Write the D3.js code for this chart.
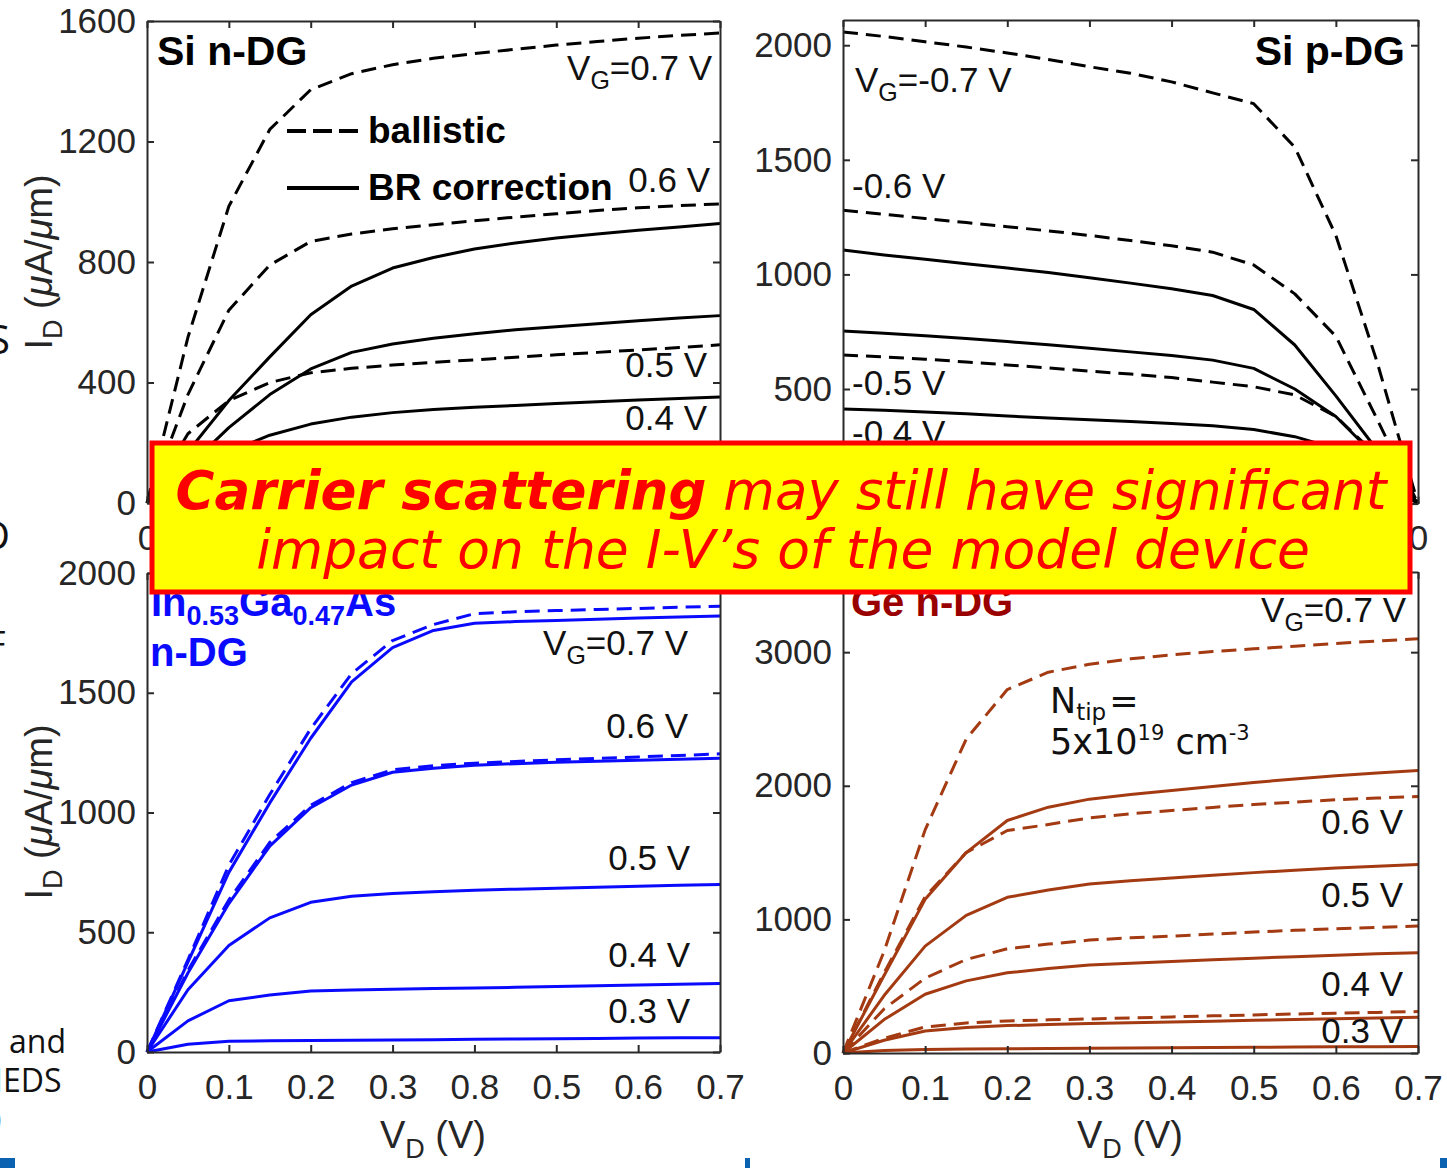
<!DOCTYPE html>
<html><head><meta charset="utf-8">
<script src="https://cdn.jsdelivr.net/npm/d3@7/dist/d3.min.js"></script>
<style>body{margin:0;background:#fff;overflow:hidden}svg{display:block}</style>
</head><body>
<svg id="c" width="1447" height="1168"></svg>
<script>
// ---------- DATA ----------
const vdN = [0,0.05,0.1,0.15,0.2,0.25,0.3,0.35,0.4,0.45,0.5,0.55,0.6,0.65,0.7];
const vdP = [-0.7,-0.65,-0.6,-0.55,-0.5,-0.45,-0.4,-0.35,-0.3,-0.25,-0.2,-0.15,-0.1,-0.05,0];

// Si n-DG (uA/um)
const siN_ball07 = [0,550,985,1240,1372,1425,1455,1476,1492,1506,1520,1532,1543,1552,1560];
const siN_ball06 = [0,360,640,790,868,893,910,924,937,949,960,971,980,987,993];
const siN_br06   = [0,170,340,485,625,720,780,815,843,863,880,893,905,916,928];
const siN_ball05 = [0,230,340,400,432,447,458,467,475,484,492,500,508,516,525];
const siN_br05   = [0,120,250,360,445,500,528,547,562,575,585,595,605,614,622];
const siN_ball04 = [0,120,160,172,178,181,183,185,186,187,188,189,190,191,192];
const siN_br04   = [0,90,170,225,262,285,300,310,318,324,330,336,342,347,352];

// Si p-DG (VD from -0.7 to 0)
const siP_ball07 = [2058,2038,2015,1992,1966,1938,1906,1878,1840,1792,1745,1555,1170,620,0];
const siP_ball06 = [1280,1262,1244,1226,1208,1190,1170,1148,1125,1097,1041,915,730,370,0];
const siP_br06   = [1106,1085,1066,1047,1028,1008,985,962,937,908,847,692,470,235,0];
const siP_br05   = [753,743,732,720,707,693,678,662,646,626,590,500,380,200,0];
const siP_ball05 = [648,640,630,618,605,592,578,565,550,530,510,474,380,210,0];
const siP_br04   = [413,407,400,392,382,374,366,358,350,340,323,292,240,140,0];
const siP_ball04 = [235,232,229,226,223,220,217,214,211,207,203,195,170,110,0];

// In0.53Ga0.47As n-DG
const ingaas_ball07 = [0,385,780,1075,1350,1580,1718,1785,1830,1838,1843,1848,1852,1857,1861];
const ingaas_br07   = [0,375,750,1040,1310,1545,1688,1760,1790,1797,1802,1807,1812,1816,1820];
const ingaas_ball06 = [0,340,635,875,1030,1125,1178,1195,1206,1213,1220,1226,1232,1238,1245];
const ingaas_br06   = [0,330,620,860,1020,1115,1168,1185,1197,1204,1210,1214,1218,1222,1226];
const ingaas_br05   = [0,260,445,560,625,650,662,669,675,680,684,688,692,696,699];
const ingaas_br04   = [0,130,214,238,255,259,262,265,267,270,274,277,280,283,286];
const ingaas_br03   = [0,32,45,47,48,49,50,51,53,54,55,56,58,59,60];

// Ge n-DG
const ge_ball07 = [0,760,1670,2350,2720,2850,2910,2950,2980,3005,3025,3045,3065,3083,3100];
const ge_br07   = [0,580,1150,1500,1740,1840,1900,1935,1965,1995,2025,2050,2075,2095,2115];
const ge_ball06 = [0,600,1170,1500,1665,1710,1760,1790,1815,1838,1860,1878,1895,1908,1920];
const ge_br06   = [0,430,800,1030,1165,1220,1265,1290,1310,1330,1350,1368,1385,1398,1410];
const ge_ball05 = [0,330,560,700,780,815,845,862,875,890,905,918,930,940,950];
const ge_br05   = [0,250,440,540,600,632,658,672,685,698,710,721,732,742,751];
const ge_ball04 = [0,110,195,225,240,248,255,262,270,278,285,292,298,304,310];
const ge_br04   = [0,95,165,190,205,213,220,226,232,238,245,250,256,262,267];
const ge_br03   = [0,18,27,30,32,34,36,37,39,41,43,44,46,47,49];

// tick values / labels
const xTicksN = [0,0.1,0.2,0.3,0.4,0.5,0.6,0.7];
const xTicksP = [-0.7,-0.6,-0.5,-0.4,-0.3,-0.2,-0.1,0];
const xLabelsN = ["0","0.1","0.2","0.3","0.4","0.5","0.6","0.7"];
const xLabelsInGaAs = ["0","0.1","0.2","0.3","0.8","0.5","0.6","0.7"];
const xLabelsP = ["-0.7","-0.6","-0.5","-0.4","-0.3","-0.2","-0.1","0"];
const yTicksSiN = [0,400,800,1200,1600];
const yTicksSiP = [0,500,1000,1500,2000];
const yTicksInGaAs = [0,500,1000,1500,2000];
const yTicksGe = [0,1000,2000,3000];

// ---------- DRAW ----------
const svg = d3.select('#c');
const FONT = '"Liberation Sans", Arial, Helvetica, sans-serif';
const BLACK = '#000', BLUE = '#0a0aff', BROWN = '#a33a12';
const DASH = '15,8';
const BOX = {x:152, y:443, w:1258, h:149};

function insideBox(el){
  const b = el.getBBox(), m = el.getCTM();
  const x0 = m.e + b.x, y0 = m.f + b.y;
  return x0 >= BOX.x && x0 + b.width <= BOX.x + BOX.w && y0 >= BOX.y && y0 + b.height <= BOX.y + BOX.h;
}

function panel(cfg){
  const x = d3.scaleLinear().domain(cfg.xDomain).range([cfg.left, cfg.right]);
  const y = d3.scaleLinear().domain(cfg.yDomain).range([cfg.bottom, cfg.top]);
  const g = svg.append('g');
  const line = d3.line().x(d=>x(d[0])).y(d=>y(d[1]));
  cfg.series.forEach(s=>{
    g.append('path')
      .datum(cfg.vd.map((v,i)=>[v,s.data[i]]))
      .attr('d', line)
      .attr('fill','none')
      .attr('stroke', s.color)
      .attr('stroke-width', 3)
      .attr('stroke-linejoin','round')
      .attr('stroke-dasharray', s.dashed ? DASH : null);
  });
  const axColor = '#2a2a2a';
  const styleAxis = sel => {
    sel.select('.domain').attr('stroke', axColor).attr('stroke-width', 2);
    sel.selectAll('.tick line').attr('stroke', axColor).attr('stroke-width', 2);
    sel.selectAll('.tick text').attr('fill', '#262626').style('font-family', FONT).style('font-size','35px');
  };
  g.append('g').attr('transform',`translate(0,${cfg.bottom})`)
    .call(d3.axisBottom(x).tickValues(cfg.xTicks).tickFormat((d,i)=>cfg.xLabels[i]).tickSize(-7).tickSizeOuter(0).tickPadding(22))
    .call(styleAxis);
  g.append('g').attr('transform',`translate(0,${cfg.top})`)
    .call(d3.axisTop(x).tickValues(cfg.xTicks).tickFormat('').tickSize(-7).tickSizeOuter(0))
    .call(styleAxis);
  g.append('g').attr('transform',`translate(${cfg.left},0)`)
    .call(d3.axisLeft(y).tickValues(cfg.yTicks).tickFormat(d3.format('d')).tickSize(-7).tickSizeOuter(0).tickPadding(11))
    .call(styleAxis);
  g.append('g').attr('transform',`translate(${cfg.right},0)`)
    .call(d3.axisRight(y).tickValues(cfg.yTicks).tickFormat('').tickSize(-7).tickSizeOuter(0))
    .call(styleAxis);
  // tick labels completely hidden behind the overlay box are not shown in the reference
  g.selectAll('.tick text').each(function(){ if (insideBox(this)) d3.select(this).remove(); });
  return {x,y,g};
}

// rich text helper
function rich(x, y, parts, o={}){
  const base = o.size || 35;
  const t = svg.append('text').attr('x',x).attr('y',y)
    .attr('text-anchor', o.anchor || 'start')
    .style('font-family', o.family || FONT)
    .style('font-size', base+'px')
    .style('font-weight', o.bold ? 'bold' : 'normal')
    .attr('fill', o.color || '#111');
  if (o.rotate) t.attr('transform', `rotate(${o.rotate},${x},${y})`);
  let shift = 0;
  parts.forEach(p=>{
    if (typeof p === 'string') p = {t:p};
    let target = 0, size = base;
    if (p.sub){ target = o.subShift || Math.round(base*0.27); size = p.size || Math.round(base*0.7); }
    if (p.sup){ target = -(o.supShift || Math.round(base*0.4)); size = p.size || Math.round(base*0.62); }
    const ts = t.append('tspan').text(p.t).attr('dy', target - shift).style('font-size', size+'px');
    if (p.it) ts.style('font-style','italic');
    if (p.dx) ts.attr('dx', p.dx);
    shift = target;
  });
  return t;
}

// Panel 1: Si n-DG
panel({
  left:147, right:720, top:21, bottom:503,
  xDomain:[0,0.7], yDomain:[0,1600], vd:vdN,
  xTicks:xTicksN, xLabels:xLabelsN, yTicks:yTicksSiN,
  series:[
    {data:siN_ball04, dashed:true, color:BLACK},
    {data:siN_br04, color:BLACK},
    {data:siN_ball05, dashed:true, color:BLACK},
    {data:siN_br05, color:BLACK},
    {data:siN_br06, color:BLACK},
    {data:siN_ball06, dashed:true, color:BLACK},
    {data:siN_ball07, dashed:true, color:BLACK}
  ]
});
// Panel 2: Si p-DG
panel({
  left:843, right:1418, top:20, bottom:503.6,
  xDomain:[-0.7,0], yDomain:[0,2110], vd:vdP,
  xTicks:xTicksP, xLabels:xLabelsP, yTicks:yTicksSiP,
  series:[
    {data:siP_ball04, dashed:true, color:BLACK},
    {data:siP_br04, color:BLACK},
    {data:siP_ball05, dashed:true, color:BLACK},
    {data:siP_br05, color:BLACK},
    {data:siP_br06, color:BLACK},
    {data:siP_ball06, dashed:true, color:BLACK},
    {data:siP_ball07, dashed:true, color:BLACK}
  ]
});
// Panel 3: InGaAs
panel({
  left:147, right:720, top:573, bottom:1052,
  xDomain:[0,0.7], yDomain:[0,2000], vd:vdN,
  xTicks:xTicksN, xLabels:xLabelsInGaAs, yTicks:yTicksInGaAs,
  series:[
    {data:ingaas_br03, color:BLUE},
    {data:ingaas_br04, color:BLUE},
    {data:ingaas_br05, color:BLUE},
    {data:ingaas_ball06, dashed:true, color:BLUE},
    {data:ingaas_br06, color:BLUE},
    {data:ingaas_ball07, dashed:true, color:BLUE},
    {data:ingaas_br07, color:BLUE}
  ]
});
// Panel 4: Ge
panel({
  left:843, right:1418, top:572, bottom:1053,
  xDomain:[0,0.7], yDomain:[0,3600], vd:vdN,
  xTicks:xTicksN, xLabels:xLabelsN, yTicks:yTicksGe,
  series:[
    {data:ge_br03, color:BROWN},
    {data:ge_br04, color:BROWN},
    {data:ge_ball04, dashed:true, color:BROWN},
    {data:ge_br05, color:BROWN},
    {data:ge_ball05, dashed:true, color:BROWN},
    {data:ge_br06, color:BROWN},
    {data:ge_ball06, dashed:true, color:BROWN},
    {data:ge_br07, color:BROWN},
    {data:ge_ball07, dashed:true, color:BROWN}
  ]
});

// ---------- ANNOTATIONS ----------
const VG = v => ['V',{t:'G',sub:true},'='+v+' V'];
// Panel 1
rich(157,65,['Si n-DG'],{bold:true,size:41,color:'#000'});
rich(712,80,VG('0.7'),{anchor:'end'});
rich(710,192,['0.6 V'],{anchor:'end'});
rich(707,377,['0.5 V'],{anchor:'end'});
rich(707,430,['0.4 V'],{anchor:'end'});
svg.append('line').attr('x1',287).attr('x2',359).attr('y1',131).attr('y2',131).attr('stroke','#000').attr('stroke-width',4).attr('stroke-dasharray','19,7');
svg.append('line').attr('x1',287).attr('x2',359).attr('y1',188).attr('y2',188).attr('stroke','#000').attr('stroke-width',4);
rich(368,143,['ballistic'],{bold:true,size:37,color:'#000'});
rich(368,200,['BR correction'],{bold:true,size:37,color:'#000'});
// Panel 2
rich(1405,65,['Si p-DG'],{bold:true,size:41,color:'#000',anchor:'end'});
rich(855,92,VG('-0.7'));
rich(852,198,['-0.6 V']);
rich(852,395,['-0.5 V']);
rich(852,445,['-0.4 V']);
// Panel 3
rich(151,616,['In',{t:'0.53',sub:true,size:27},'Ga',{t:'0.47',sub:true,size:27},'As'],{bold:true,size:40,color:BLUE,subShift:9});
rich(150,666,['n-DG'],{bold:true,size:40,color:BLUE});
rich(688,655,VG('0.7'),{anchor:'end'});
rich(688,738,['0.6 V'],{anchor:'end'});
rich(690,870,['0.5 V'],{anchor:'end'});
rich(690,967,['0.4 V'],{anchor:'end'});
rich(690,1023,['0.3 V'],{anchor:'end'});
// Panel 4
rich(851,616,['Ge n-DG'],{bold:true,size:40,color:'#990000'});
rich(1406,622,VG('0.7'),{anchor:'end'});
rich(1403,834,['0.6 V'],{anchor:'end'});
rich(1403,907,['0.5 V'],{anchor:'end'});
rich(1403,996,['0.4 V'],{anchor:'end'});
rich(1403,1043,['0.3 V'],{anchor:'end'});
rich(1050,713,['N',{t:'tip',sub:true,size:23},{t:'=',dx:3}],{family:'"DejaVu Sans", Verdana, sans-serif',size:35,subShift:7});
rich(1050,754,['5x10',{t:'19',sup:true,size:21},' cm',{t:'-3',sup:true,size:21}],{family:'"DejaVu Sans", Verdana, sans-serif',size:35,supShift:14});

// axis titles
const yTitle = ['I',{t:'D',sub:true},' (',{t:'μ',it:true},'A/',{t:'μ',it:true},'m)'];
rich(52,262,yTitle,{anchor:'middle',rotate:-90,size:38,color:'#262626'});
rich(52,812,yTitle,{anchor:'middle',rotate:-90,size:38,color:'#262626'});
rich(433,1148,['V',{t:'D',sub:true},' (V)'],{anchor:'middle',size:38,color:'#262626'});
rich(1130,1148,['V',{t:'D',sub:true},' (V)'],{anchor:'middle',size:38,color:'#262626'});

// slide fragments at the left edge (cut off in the reference as well)
const SL = '"Open Sans", "Noto Sans", sans-serif';
rich(-12,354,['S'],{family:SL,size:40,color:'#111'});
rich(-19,550,['D'],{family:SL,size:40,color:'#111'});
rich(-12,656,['F'],{family:SL,size:34,color:'#111'});
rich(9,1053,['and'],{family:SL,size:32,color:'#111'});
rich(-6,1092,['IEDS'],{family:SL,size:32,color:'#111'});
rich(-8,1130,[')'],{family:SL,size:32,color:'#111'});
svg.append('rect').attr('x',0).attr('y',1158).attr('width',15).attr('height',10).attr('fill','#0b62b0');
svg.append('rect').attr('x',745).attr('y',1158).attr('width',5).attr('height',10).attr('fill','#0b62b0');
svg.append('rect').attr('x',1440).attr('y',1158).attr('width',7).attr('height',10).attr('fill','#0b62b0');

// ---------- OVERLAY BOX ----------
svg.append('rect').attr('x',BOX.x).attr('y',BOX.y).attr('width',BOX.w).attr('height',BOX.h)
  .attr('fill','#ffff00').attr('stroke','#ff0000').attr('stroke-width',5);
const BF = '"DejaVu Sans", Verdana, sans-serif';
const l1 = svg.append('text').attr('x',781).attr('y',509).attr('text-anchor','middle')
  .style('font-family',BF).style('font-size','53px').style('font-style','italic').attr('fill','#ff0000');
l1.append('tspan').text('Carrier scattering').style('font-weight','bold');
l1.append('tspan').text(' may still have significant');
svg.append('text').attr('x',783).attr('y',568).attr('text-anchor','middle')
  .style('font-family',BF).style('font-size','53.5px').style('font-style','italic').attr('fill','#ff0000')
  .text('impact on the I-V\u2019s of the model device');
</script>
</body></html>
